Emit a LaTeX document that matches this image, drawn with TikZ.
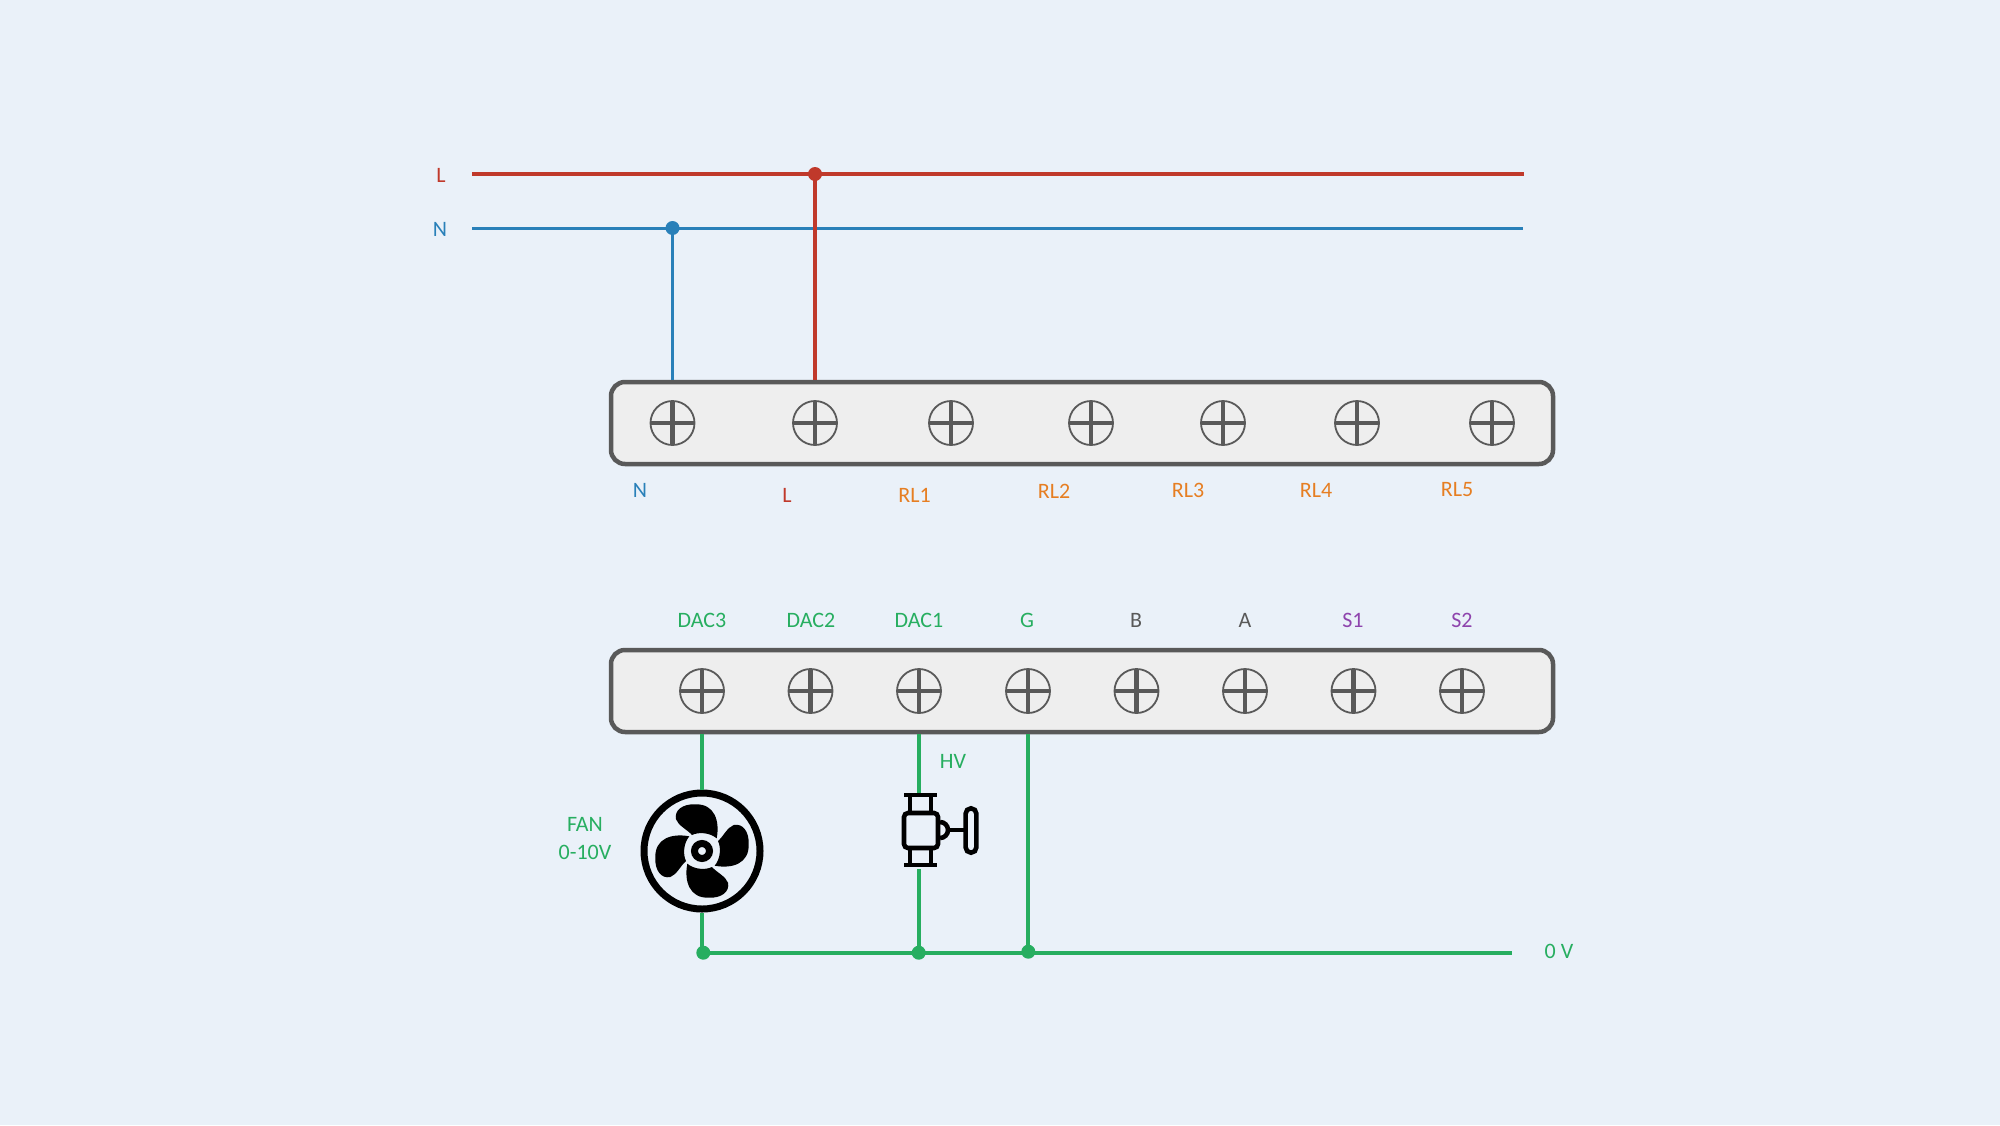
\documentclass[tikz,border=0pt]{standalone}
\usepackage{fontspec}
\setmainfont{Carlito}
\definecolor{bgblue}{HTML}{EAF1F9}
\definecolor{boxgray}{HTML}{EEEEEE}
\definecolor{linegray}{HTML}{595959}
\definecolor{wirered}{HTML}{C0392B}
\definecolor{wireblue}{HTML}{2980B9}
\definecolor{wiregreen}{HTML}{27AE60}
\definecolor{wireorange}{HTML}{E67E22}
\definecolor{wirepurple}{HTML}{8E44AD}
\tikzset{
    lbl/.style = {font=\fontsize{22}{26}\selectfont, inner sep=0pt},
    strip/.style = {draw=linegray, fill=boxgray, line width=4.5pt, rounded corners=14pt, minimum width=942pt, minimum height=82pt},
    screw/.style = {circle, draw=linegray, line width=1.8pt, minimum size=44pt, inner sep=0pt,
        path picture={\draw[linegray, line width=4.4pt]
            (path picture bounding box.north) -- (path picture bounding box.south)
            (path picture bounding box.west) -- (path picture bounding box.east);}},
    junction/.style = {circle, inner sep=0pt, minimum size=14pt},
    valveline/.style = {black, line width=4.6pt},
}
\begin{document}
\begin{tikzpicture}[x=1pt,y=-1pt]
    \fill[bgblue] (0,0) rectangle (2000,1125);
    \useasboundingbox (0,0) rectangle (2000,1125);

    % Terminal strips
    \node[strip] (powerStrip) at (1082,423) {};
    \node[strip] (ioStrip) at (1082,691) {};

    % Screws on the strips
    \foreach \name/\xpos in {tN/672.5, tL/815, tRa/951, tRb/1091, tRc/1223, tRd/1357, tRe/1492}
        \node[screw] (\name) at (\xpos,423) {};
    \foreach \name/\xpos in {tDc/702, tDb/810.5, tDa/919, tG/1028, tB/1136.5, tA/1245, tSa/1353.5, tSb/1462}
        \node[screw] (\name) at (\xpos,691) {};

    % Supply lines
    \coordinate (Lstart) at (472,174);
    \coordinate (Lend) at (1524,174);
    \coordinate (Nstart) at (472,228);
    \coordinate (Nend) at (1523,228);
    \draw[wireblue, line width=3pt] (Nstart) -- (Nend);
    \draw[wirered, line width=4pt] (Lstart) -- (Lend);
    \node[junction, fill=wirered] (dotL) at (815,174) {};
    \node[junction, fill=wireblue] (dotN) at (672.5,228) {};
    \draw[wireblue, line width=3pt] (dotN.center) -- (tN |- powerStrip.north);
    \draw[wirered, line width=4pt] (dotL.center) -- (tL |- powerStrip.north);

    % Fan
    \node[circle, draw=black, line width=7pt, minimum size=116pt, inner sep=0pt] (fan) at (702,851) {};
    \begin{scope}[shift={(702,851)}, scale=1/3]
        \foreach \angle in {0,90,180,270}
            \fill[black, rotate=\angle] (44,-38) .. controls (54,-90) and (38,-142) .. (-20,-140)
                .. controls (-58,-142) and (-84,-122) .. (-78,-95)
                .. controls (-70,-75) and (-45,-65) .. (-30,-48)
                .. controls (-10,-58) and (25,-55) .. cycle;
    \end{scope}
    \draw[black, line width=7pt] (702,851) circle (7.5pt);

    % Valve
    \coordinate (valveTop) at (919,793);
    \coordinate (valveBot) at (919,869);
    \draw[valveline] (904,795) -- (937,795);
    \draw[valveline] (904,865) -- (937,865);
    \draw[valveline] (910,795) -- (910,813) (931,795) -- (931,813);
    \draw[valveline] (910,848) -- (910,865) (931,848) -- (931,865);
    \draw[valveline, rounded corners=4pt] (904,813) rectangle (938,848);
    \draw[valveline] (940,838) arc (-90:90:8pt);
    \draw[valveline] (948,830) -- (965,830);
    \draw[valveline, rounded corners=5.4pt] (965.6,808.3) rectangle (976.4,852.7);

    % Low voltage wiring
    \coordinate (zeroEnd) at (1511.5,952.7);
    \node[junction, fill=wiregreen] (dotFan) at (703.3,952.7) {};
    \node[junction, fill=wiregreen] (dotValve) at (918.7,952.7) {};
    \node[junction, fill=wiregreen] (dotG) at (1028.3,951.7) {};
    \draw[wiregreen, line width=4.3pt] (dotFan.center) -- (zeroEnd);
    \draw[wiregreen, line width=4pt] (tDc |- ioStrip.south) -- (fan.north);
    \draw[wiregreen, line width=4pt] (fan.south) -- (fan.south |- dotFan);
    \draw[wiregreen, line width=4pt] (tDa |- ioStrip.south) -- (valveTop);
    \draw[wiregreen, line width=4pt] (valveBot) -- (valveBot |- dotValve);
    \draw[wiregreen, line width=4pt] (tG |- ioStrip.south) -- (tG |- dotG);

    % Labels
    \node[lbl, text=wirered] (lblL) at (441,175) {L};
    \node[lbl, text=wireblue] (lblN) at (440,229.5) {N};
    \node[lbl, text=wireblue] (lblTN) at (640,490) {N};
    \node[lbl, text=wirered] (lblTL) at (787,495) {L};
    \foreach \name/\xpos/\ypos/\txt in {a/914.5/495/RL1, b/1054/491/RL2, c/1188/490/RL3, d/1316/490/RL4, e/1457/490/RL5}
        \node[lbl, text=wireorange] (lblR\name) at (\xpos,\ypos) {\txt};
    \foreach \name/\xpos/\txt/\col in {c/702/DAC3/wiregreen, b/811/DAC2/wiregreen, a/919/DAC1/wiregreen, g/1027/G/wiregreen,
        k/1136/B/linegray, m/1245/A/linegray, p/1353/S1/wirepurple, q/1462/S2/wirepurple}
        \node[lbl, text=\col] (lblD\name) at (\xpos,620) {\txt};
    \node[lbl, text=wiregreen] (lblHV) at (953,761) {HV};
    \node[lbl, text=wiregreen] (lblFan) at (585,824) {FAN};
    \node[lbl, text=wiregreen] (lblVolt) at (585,852) {0-10V};
    \node[lbl, text=wiregreen] (lblZero) at (1559,951.5) {0 V};
\end{tikzpicture}
\end{document}
